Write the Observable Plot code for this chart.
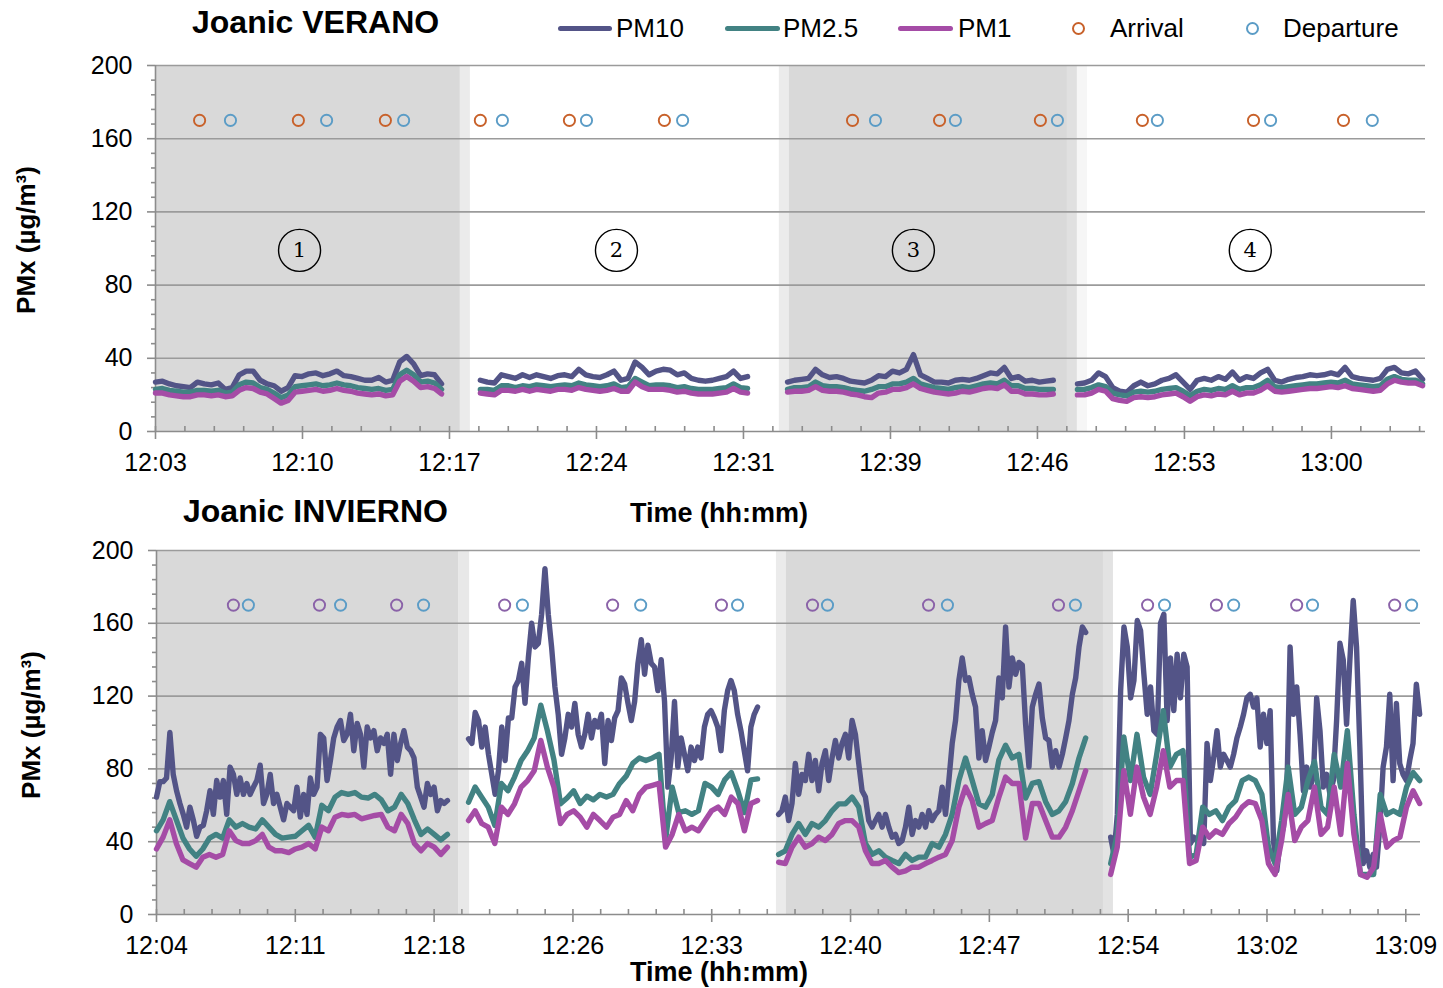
<!DOCTYPE html>
<html><head><meta charset="utf-8">
<script src="https://cdn.jsdelivr.net/npm/d3@7"></script>
<script src="https://cdn.jsdelivr.net/npm/@observablehq/plot@0.6"></script>
<style>
body{margin:0;background:#fff;font-family:"Liberation Sans",Arial,sans-serif;}
#wrap{position:relative;width:1443px;height:988px;overflow:hidden;background:#fff;}
#wrap svg{position:absolute;left:0;}
.abs{position:absolute;white-space:nowrap;line-height:1;color:#000;z-index:5;}
.b{font-weight:bold;}
.sw{position:absolute;height:5px;border-radius:3px;z-index:5;}
.cc{position:absolute;width:9px;height:9px;border-radius:50%;border:2px solid;z-index:5;box-sizing:content-box;}
</style></head><body><div id="wrap"></div>
<script>
// ---------- tick labels ----------
const veranoTicks = ["12:03","12:10","12:17","12:24","12:31","12:39","12:46","12:53","13:00"];
const inviernoTicks = ["12:04","12:11","12:18","12:26","12:33","12:40","12:47","12:54","13:02","13:09"];

// ---------- segment extents (axis units: 1 unit = 1 minor tick) ----------
const veranoSegments = [[0, 9.73], [11.05, 20.14], [21.50, 30.54], [31.36, 43.10]];
const inviernoSegments = [[0, 10.48], [11.24, 21.65], [22.41, 33.47], [34.37, 45.50]];

// ---------- VERANO series (µg/m³), one array per measurement segment ----------
const veranoPM10 = [
  [27,27.5,26,25,24.5,24,27,26,25.5,26.5,23,24,31,33,33,28,26,25,22,24,30.5,30,31.5,32,30.5,31.5,33,30.5,30,29,28,28,29.5,27,28,38,41,37,30.5,31.5,31,26],
  [28,27,26.5,31,30,29,31,29.5,31,30,29,30.5,31,30,34,31,30,29.5,31,33,28,29,38,35,31,33,34,33.5,31,32,29,28,27.5,28,29,30,33,29,30],
  [27,28,28.5,29,34,31,29.5,30,29,27.5,27,26.5,28,30.5,30,33,32,34,42,31,29,27,27,26.5,28,28.5,28,29,30.5,32,31.5,35,29,30,27.5,28,27,27.5,28],
  [26,26.5,28,32,30,24,22,21.5,25,27,25,26,28,29,31,27,23,28,29,28,30,28.5,32.5,28,30,29,32,34,28,27,28.5,29.5,30,31,30.5,31,32,31,35,30,29,28.5,28,29,34,35,32,31.5,33,28.5]
];
const veranoPM25 = [
  [23,23.5,22.5,22,21.5,21.5,22.5,22.5,22,22.5,21,21.5,25.5,27,26.5,24,23,21,18.5,20,24.5,25,25.5,26,25,25.5,26.5,25.5,25,24,23.5,23,23.5,22.5,23,31,33.5,31,27,27.5,26.5,23],
  [23,23,22.5,25,25,24,25,24.5,25.5,25,24.5,25,25.5,25,26.5,25.5,25,24.5,25,26,24,24.5,29,27,25,25.5,25.5,25,24,24.5,23.5,23,23,23,23.5,24,26,24,23.5],
  [23,24,24,24.5,27,25,24.5,24.5,24,23,22.5,22,23,24.5,24.5,26,26,27,29,26,25,24,23.5,23,24,24.5,24,25,26,26.5,26,28,25,25,23.5,23.5,23,23,23],
  [23,23,24,25.5,24.5,21,20,19.5,21.5,22,21.5,22,23,23.5,24,22,19.5,22,23,22.5,23.5,23,25,23,24,24,25.5,28,24.5,24,24.5,25,25.5,26,26,26.5,27,26.5,28,26,25.5,25,24.5,25,28.5,30,28.5,28,28,26]
];
const veranoPM1 = [
  [21,21,20,19.5,19,19,20,20,19.5,20,19,19.5,22.5,24,23.5,21.5,20.5,18,15.5,17,21.5,22,22.5,23,22,22.5,23.5,22.5,22,21,20.5,20,20.5,19.5,20,27.5,30,27.5,24,24.5,23.5,20.5],
  [21,20.5,20,22.5,22.5,22,23,22,23,22.5,22,23,23,22.5,24,23,22.5,22,22.5,23.5,22,22,27,24.5,23,23,23,22.5,21.5,22,21,20.5,20.5,20.5,21,21.5,23.5,21.5,21],
  [21.5,22,22,22.5,24.5,22.5,22,22,21.5,20.5,20,19,18.5,21,21.5,23,23,24,26,23.5,22.5,21.5,21,20.5,21,22,21.5,22.5,23.5,24,23.5,25.5,22,22,20.5,20.5,20,20,20.5],
  [20,20,21,23,22,18,17,16.5,18.5,19,18.5,19,20,20.5,21,19,16.5,19,20,19.5,20.5,20,22,20,21,21,22.5,25,22,21.5,22,22.5,23,23.5,23.5,24,24.5,24,25,23.5,23,22.5,22,22.5,26,28,27,26.5,26.5,25]
];

// ---------- INVIERNO series ----------
const inviernoPM10 = [
  [64.5,73,73,75,100,77,68,61,55,48,59,52,43,48,49,57,68,55,73.6,64.5,73.6,55,81,77,66,75,66,72,66,70,73.6,82,61,66,77,61,66,59,52,61,59,57,70,53.5,66,55,75,66,70,99,97,73.6,84.6,97,103,106.6,95.6,99,110,90,105,99,81,103,97,101,90,97,94,99,77,99,84.6,94,101,92,90,86,70,64.5,59,72,66,70,57,62.6,61,62.6],
  [96.5,94,111,106.6,92,103,88,77,66,79,103,84.6,108,108,125,128.6,138,116,141,160,147,149,165,190,165,147,125,110,88,97,110,103,116,99,92,99,110,97,106.6,103,110,83,106.6,95.6,108,112,130,126.6,116,106.6,117,138,151,132,148,138,136,123,140,117,70,86,117,81,97,88,79,92,84.6,92,86,103,110,112,108,103,90,112,123,128.6,123,110,101,90,79,103,110,114],
  [55,57,64.5,51.6,61,83,66,77,73.6,88,73.6,84.6,68,83,90,73.6,86,95.6,86,94,99,86,106.6,99,83,68,64.5,51.6,48,51.6,55,48,55,48,42.5,44,39,40.6,48,59,44,51.6,48,55,48,57,51.6,55,57,70,55,73.6,94,106.6,128.6,141,128.6,130,121,114,86,101,84.6,92,100,106.6,130,119,158,125,141,132,138.5,137,104.5,81,114,121,126.6,108,97,95.6,81,90,81,88,97,106.6,121,130,147,158,155],
  [42.5,33,55,123,158,147,119,128.6,161.5,156,132,110,125,101,99,160,165,106.6,141,112,143,119,143,136,39,42.5,40.6,42.5,39,94,73.6,86,101,81,88,84.6,81,88,97,103,110,119,121,114,119,92,110,94,112,40.6,24,40.6,48,66,147,110,125,99,68,81,70,75.5,119,101,70,77,66,73.6,106.6,149,140,104.5,140,172.5,147,92,28,35,26,33,26,48,81,92,121,73.6,116,83,77,73.6,84.6,94,126.6,110]
];
const inviernoPM25 = [
  [46,52,62,52,42,36,32,36,42,44,42,52,48,50,48,47,52,48,44,42,42.5,43,46,49,42.5,60,57,64.5,67,66,67,64.5,64,66,63,57,59,66,61,52,44,47,44,41,44],
  [61.7,70,64.5,59,49,72,68,75.5,84.6,90,97,115,101,85,60.8,64,68,61,65,63,66,64.5,66,72,76,83,86,84.6,86,88,41,70,56,57,55,57,72,70,66,74,78,68,56,74,74.5],
  [33,35,44,50,44,50,48,51.6,57,60.8,60.8,64.5,59,39,33,35,31.5,29.7,28,33,29.7,31.5,31.5,39,37,44,55,73.6,86,73.6,60.8,59,66,85,93,86,88,64,72,73,62,55,57,62,72,86,97],
  [28,44,97.6,73.6,99,75.5,66,88,112,81,88,90,31.5,33,59,55,57,51.6,59,62.6,73.6,75.5,73.6,66,37,28,51.6,81,55,59,73.6,84,59,55,88,70,101,55,22,22,22,66,55,57,55,70,78,73.6]
];
const inviernoPM1 = [
  [36,42.5,52,39,30,28,26,31.5,33,31.5,33,46,40.6,39,39,40.6,44,37,35,35,34,36,37,39,36,48,46,53.5,55,54.4,55,52.6,53.5,54.4,55,48,46,55,50,39,35,39,37,33,37],
  [51.6,57,50,48,39,59,55,60.8,70,73.6,79,95.6,81,70,50,55,57,53.5,48,55,51.6,48,53.5,55,62.6,57,66,70,71,72,37,44,55,46,48,46,51.6,57,59,55,64.5,61,46,61,62.6],
  [28.7,28,37,42.5,37,39,42.5,40.6,44,50,51.6,51.6,48,35,28,28,29.7,26,23,24,26,26,28,29.7,31.5,33,40.6,59,70,62.6,48,50,51.6,64.5,75.5,72,72,42,61,61,51.6,42.5,42.5,48,57,68,79],
  [22,37,79,55,81,64.5,55,70,90,70,73.6,73.6,28,29.7,48,42.5,46,44,50,53.5,59,62,61,51.6,28,22,40.6,66,40.6,48,51.6,70,44,48,70,44,83,44,22,20.5,26,55,37,40.6,42.5,59,68,61]
];

// ---------- arrival / departure events (axis units) ----------
const veranoArrival = [1.50,4.86,7.82,11.05,14.08,17.31,23.71,26.67,30.10,33.57,37.35,40.41];
const veranoDeparture = [2.55,5.82,8.44,11.80,14.66,17.93,24.49,27.21,30.68,34.08,37.93,41.39];
const inviernoArrival = [2.77,5.87,8.65,12.54,16.43,20.35,23.63,27.81,32.49,35.70,38.18,41.07,44.60];
const inviernoDeparture = [3.31,6.63,9.62,13.18,17.44,20.93,24.17,28.49,33.10,36.31,38.80,41.64,45.21];

// ---------- shaded periods ----------
const veranoBands = [
  {x1:0, x2:10.37, fill:"#d9d9d9"}, {x1:10.37, x2:10.71, fill:"#ebebeb"},
  {x1:21.22, x2:21.56, fill:"#ebebeb"}, {x1:21.56, x2:31.02, fill:"#d9d9d9"},
  {x1:31.02, x2:31.36, fill:"#e0e0e0"}, {x1:31.36, x2:31.70, fill:"#f6f6f6"}
];
const inviernoBands = [
  {x1:0, x2:10.88, fill:"#d9d9d9"}, {x1:10.88, x2:11.28, fill:"#e8e8e8"},
  {x1:22.33, x2:22.69, fill:"#ebebeb"}, {x1:22.69, x2:34.11, fill:"#d9d9d9"},
  {x1:34.11, x2:34.47, fill:"#e3e3e3"}
];

// ---------- numbered circles (VERANO) ----------
const circleLabels = ["1","2","3","4"];
const circleX = [4.90, 15.68, 25.78, 37.24];

const colors = {PM10:"#535487", "PM2.5":"#428283", PM1:"#a54ca6"};
const grey = "#8c8c8c";

function rowsOf(segments, values, name) {
  const rows = [];
  values.forEach((seg, s) => {
    const [a, b] = segments[s], n = seg.length;
    seg.forEach((v, i) => rows.push({series:name, seg:s, x:a + (b - a) * i / (n - 1), y:v}));
  });
  return rows;
}

function panel(o) {
  const W = 1443 - o.ml - o.mr, H = o.height - o.mt - o.mb;
  const majors = o.labels.map((_, i) => i * 5);
  const minors = d3.range(0, Math.floor(o.xmax) + 1).filter(u => u % 5 !== 0);
  const yMaj = [0,40,80,120,160,200];
  const yMin = d3.range(8, 200, 8).filter(v => v % 40 !== 0);
  const lines = [["PM10", o.pm10], ["PM2.5", o.pm25], ["PM1", o.pm1]].map(([name, vals]) =>
    Plot.line(rowsOf(o.segs, vals, name), {x:"x", y:"y", z:"seg", stroke:colors[name], strokeWidth:5.4, strokeLinejoin:"round", strokeLinecap:"round"}));
  const marks = [
    Plot.rect(o.bands, {x1:"x1", x2:"x2", y1:0, y2:200, fill:"fill"}),
    Plot.ruleY([40,80,120,160,200], {stroke:"#9b9b9b", strokeWidth:1.6}),
    Plot.ruleY([0], {stroke:grey, strokeWidth:1.6}),
    Plot.ruleX([0], {stroke:grey, strokeWidth:1.6}),
    Plot.tickX(majors, {x:d => d, insetTop:H - 5, insetBottom:-8, stroke:grey, strokeWidth:1.6}),
    Plot.tickX(minors, {x:d => d, insetTop:H - 5, stroke:grey, strokeWidth:1.6}),
    Plot.tickY(yMaj, {y:d => d, insetLeft:-8, insetRight:W, stroke:grey, strokeWidth:1.6}),
    Plot.tickY(yMin, {y:d => d, insetLeft:-4, insetRight:W, stroke:grey, strokeWidth:1.6}),
    Plot.axisX(majors, {tickFormat:d => o.labels[Math.round(d / 5)], tickSize:0, tickPadding:o.xpad, fontSize:25, label:null}),
    Plot.axisY(yMaj, {tickSize:0, tickPadding:23, fontSize:25, label:null}),
    ...lines,
    Plot.dot(o.arr, {x:d => d, y:170, r:5.6, stroke:o.arrColor, strokeWidth:1.9, fill:"none"}),
    Plot.dot(o.dep, {x:d => d, y:170, r:5.6, stroke:"#5b9cc6", strokeWidth:1.9, fill:"none"})
  ];
  if (o.circles) {
    marks.push(Plot.dot(o.circles.x, {x:d => d, y:99, r:21, stroke:"#000", strokeWidth:1.4, fill:"none"}));
    marks.push(Plot.text(o.circles.x, {x:d => d, y:99, text:(d, i) => o.circles.labels[i], fontSize:21, fontFamily:"'DejaVu Serif', serif", fill:"#000"}));
  }
  const svg = Plot.plot({
    width:1443, height:o.height, marginTop:o.mt, marginBottom:o.mb, marginLeft:o.ml, marginRight:o.mr,
    x:{domain:[0, o.xmax]}, y:{domain:[0, 200]},
    style:{fontFamily:"'Liberation Sans', Arial, sans-serif", fontSize:"25px", color:"#000", background:"transparent", overflow:"visible"},
    marks
  });
  svg.style.top = o.top + "px";
  return svg;
}

const wrap = document.getElementById("wrap");
wrap.appendChild(panel({top:0, height:490, mt:65, mb:59, ml:155, mr:18, xmax:43.2, xpad:22,
  labels:veranoTicks, segs:veranoSegments, pm10:veranoPM10, pm25:veranoPM25, pm1:veranoPM1,
  bands:veranoBands, arr:veranoArrival, dep:veranoDeparture, arrColor:"#c8612a",
  circles:{x:circleX, labels:circleLabels}}));
wrap.appendChild(panel({top:490, height:498, mt:60, mb:74, ml:156, mr:23, xmax:45.53, xpad:22,
  labels:inviernoTicks, segs:inviernoSegments, pm10:inviernoPM10, pm25:inviernoPM25, pm1:inviernoPM1,
  bands:inviernoBands, arr:inviernoArrival, dep:inviernoDeparture, arrColor:"#8a62a8"}));

// ---------- titles, legend, axis titles ----------
function txt(s, left, top, size, bold, extra) {
  const d = document.createElement("div");
  d.className = "abs" + (bold ? " b" : "");
  d.textContent = s;
  d.style.left = left + "px"; d.style.top = top + "px"; d.style.fontSize = size + "px";
  if (extra) Object.assign(d.style, extra);
  wrap.appendChild(d);
  return d;
}
txt("Joanic VERANO", 192, 6, 32, true);
txt("Joanic INVIERNO", 183, 494.6, 32, true);
txt("Time (hh:mm)", 630, 500, 27, true);
txt("Time (hh:mm)", 630, 959, 27, true);
txt("PMx (µg/m³)", 26, 240, 26, true, {transform:"translate(-50%,-50%) rotate(-90deg)"});
txt("PMx (µg/m³)", 31, 725, 26, true, {transform:"translate(-50%,-50%) rotate(-90deg)"});

const legendLines = [["PM10", 558, 612, 616], ["PM2.5", 725, 780, 783], ["PM1", 898, 953, 958]];
legendLines.forEach(([name, x1, x2, tx]) => {
  const s = document.createElement("div");
  s.className = "sw"; s.style.left = x1 + "px"; s.style.width = (x2 - x1) + "px"; s.style.top = "25.5px";
  s.style.background = colors[name];
  wrap.appendChild(s);
  txt(name, tx, 15, 26, false);
});
[["Arrival", 1078, 1110, "#c8612a"], ["Departure", 1252, 1283, "#5b9cc6"]].forEach(([name, cx, tx, col]) => {
  const c = document.createElement("div");
  c.className = "cc"; c.style.left = (cx - 6.5) + "px"; c.style.top = (28 - 6.5) + "px"; c.style.borderColor = col;
  wrap.appendChild(c);
  txt(name, tx, 15, 26, false);
});
</script></body></html>
